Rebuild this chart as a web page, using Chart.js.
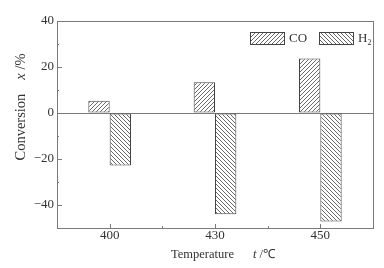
<!DOCTYPE html>
<html>
<head>
<meta charset="utf-8">
<script src="https://cdn.jsdelivr.net/npm/chart.js@4.4.0/dist/chart.umd.min.js"></script>
<style>
  html, body { margin: 0; padding: 0; background: #fff; }
  #wrap { width: 384px; height: 268px; }
</style>
</head>
<body>
<div id="wrap"><canvas id="chart" width="384" height="268"></canvas></div>
<script>
// data
const temperatures = ["400", "430", "450"];
const coConversion = [5.3, 13.4, 23.7];
const h2Conversion = [-22.8, -44.0, -47.2];
const yMajorTicks = [40, 20, 0, -20, -40];

const serif = "'Liberation Serif', 'Times New Roman', serif";
const axisGray = "#7a7a7a";
const ink = "#333";

// hatch fills: "/" for CO, "\" for H2
function hatch(dir) {
  const size = 4;
  const c = document.createElement("canvas");
  c.width = size;
  c.height = size;
  const g = c.getContext("2d");
  g.fillStyle = "#fff";
  g.fillRect(0, 0, size, size);
  g.strokeStyle = "#444";
  g.lineWidth = 0.8;
  g.beginPath();
  if (dir === "/") {
    g.moveTo(0, size); g.lineTo(size, 0);
    g.moveTo(-1, 1); g.lineTo(1, -1);
    g.moveTo(size - 1, size + 1); g.lineTo(size + 1, size - 1);
  } else {
    g.moveTo(0, 0); g.lineTo(size, size);
    g.moveTo(size - 1, -1); g.lineTo(size + 1, 1);
    g.moveTo(-1, size - 1); g.lineTo(1, size + 1);
  }
  g.stroke();
  return g.createPattern(c, "repeat");
}

const coFill = hatch("/");
const h2Fill = hatch("\\");

// draw pieces of text in a row, some italic, centred on (0,0) of the current transform
function drawParts(ctx, parts, size) {
  let total = 0;
  parts.forEach((p) => {
    ctx.font = (p.italic ? "italic " : "") + size + "px " + serif;
    p.w = ctx.measureText(p.text).width;
    total += p.w + (p.gap || 0);
  });
  let x = -total / 2;
  parts.forEach((p) => {
    ctx.font = (p.italic ? "italic " : "") + size + "px " + serif;
    ctx.fillText(p.text, x, 0);
    x += p.w + (p.gap || 0);
  });
}

const decorations = {
  id: "decorations",
  afterDraw(chart) {
    const { ctx, chartArea: a, scales } = chart;
    ctx.save();

    // frame
    ctx.strokeStyle = axisGray;
    ctx.lineWidth = 1;
    ctx.strokeRect(Math.round(a.left) + 0.5, Math.round(a.top) + 0.5,
      Math.round(a.right - a.left), Math.round(a.bottom - a.top));

    // inward ticks on y
    ctx.beginPath();
    for (let v = -50; v <= 40; v += 10) {
      const y = Math.round(scales.y.getPixelForValue(v)) + 0.5;
      const len = v % 20 === 0 ? 5 : 2;
      ctx.moveTo(a.left, y);
      ctx.lineTo(a.left + len, y);
    }
    // inward ticks on x
    const xs = temperatures.map((t, i) => scales.x.getPixelForValue(i));
    xs.forEach((x) => {
      const px = Math.round(x) + 0.5;
      ctx.moveTo(px, a.bottom);
      ctx.lineTo(px, a.bottom - 4);
    });
    for (let i = 0; i < xs.length - 1; i++) {
      const px = Math.round((xs[i] + xs[i + 1]) / 2) + 0.5;
      ctx.moveTo(px, a.bottom);
      ctx.lineTo(px, a.bottom - 2);
    }
    ctx.stroke();

    // axis titles
    ctx.fillStyle = ink;
    ctx.textBaseline = "middle";
    ctx.textAlign = "left";
    ctx.save();
    ctx.translate(223, 255);
    drawParts(ctx, [
      { text: "Temperature", gap: 19 },
      { text: "t", italic: true },
      { text: " /\u2103" }
    ], 12.5);
    ctx.restore();

    ctx.save();
    ctx.translate(21, 107);
    ctx.rotate(-Math.PI / 2);
    drawParts(ctx, [
      { text: "Conversion", gap: 14 },
      { text: "x", italic: true },
      { text: " /%" }
    ], 14.5);
    ctx.restore();

    // legend inside the plot
    const items = [
      { fill: coFill, x: 250, label: "CO" },
      { fill: h2Fill, x: 319, label: "H", sub: "2" }
    ];
    items.forEach((it) => {
      ctx.fillStyle = it.fill;
      ctx.fillRect(it.x, 32, 34, 12);
      ctx.strokeStyle = "#444";
      ctx.strokeRect(it.x + 0.5, 32.5, 34, 12);
      ctx.fillStyle = ink;
      ctx.font = "13px " + serif;
      ctx.fillText(it.label, it.x + 39, 38.5);
      if (it.sub) {
        const w = ctx.measureText(it.label).width;
        ctx.font = "8px " + serif;
        ctx.fillText(it.sub, it.x + 39 + w, 43);
      }
    });

    ctx.restore();
  }
};

new Chart(document.getElementById("chart"), {
  type: "bar",
  data: {
    labels: temperatures,
    datasets: [
      {
        label: "CO",
        data: coConversion,
        backgroundColor: coFill,
        borderColor: "#444",
        borderWidth: 1,
        borderSkipped: false
      },
      {
        label: "H2",
        data: h2Conversion,
        backgroundColor: h2Fill,
        borderColor: "#444",
        borderWidth: 1,
        borderSkipped: false
      }
    ]
  },
  options: {
    responsive: false,
    animation: false,
    devicePixelRatio: 1,
    layout: { padding: { top: 21, right: 11, left: 0, bottom: 0 } },
    datasets: { bar: { categoryPercentage: 0.405, barPercentage: 1 } },
    plugins: { legend: { display: false }, tooltip: { enabled: false } },
    scales: {
      x: {
        type: "category",
        offset: true,
        grid: { display: false, drawTicks: false },
        border: { display: false },
        ticks: { font: { family: serif, size: 13 }, color: ink, padding: 0, maxRotation: 0 },
        afterFit: (s) => { s.height = 40; }
      },
      y: {
        min: -50,
        max: 40,
        afterBuildTicks: (s) => { s.ticks = yMajorTicks.map((v) => ({ value: v })); },
        grid: {
          drawTicks: false,
          color: (c) => (c.tick && c.tick.value === 0 ? axisGray : "rgba(0,0,0,0)")
        },
        border: { display: false },
        ticks: {
          font: { family: serif, size: 13 },
          color: ink,
          padding: 3,
          callback: (v) => (v < 0 ? "\u2212" + Math.abs(v) : String(v))
        },
        afterFit: (s) => { s.width = 57; }
      }
    }
  },
  plugins: [decorations]
});
</script>
</body>
</html>
